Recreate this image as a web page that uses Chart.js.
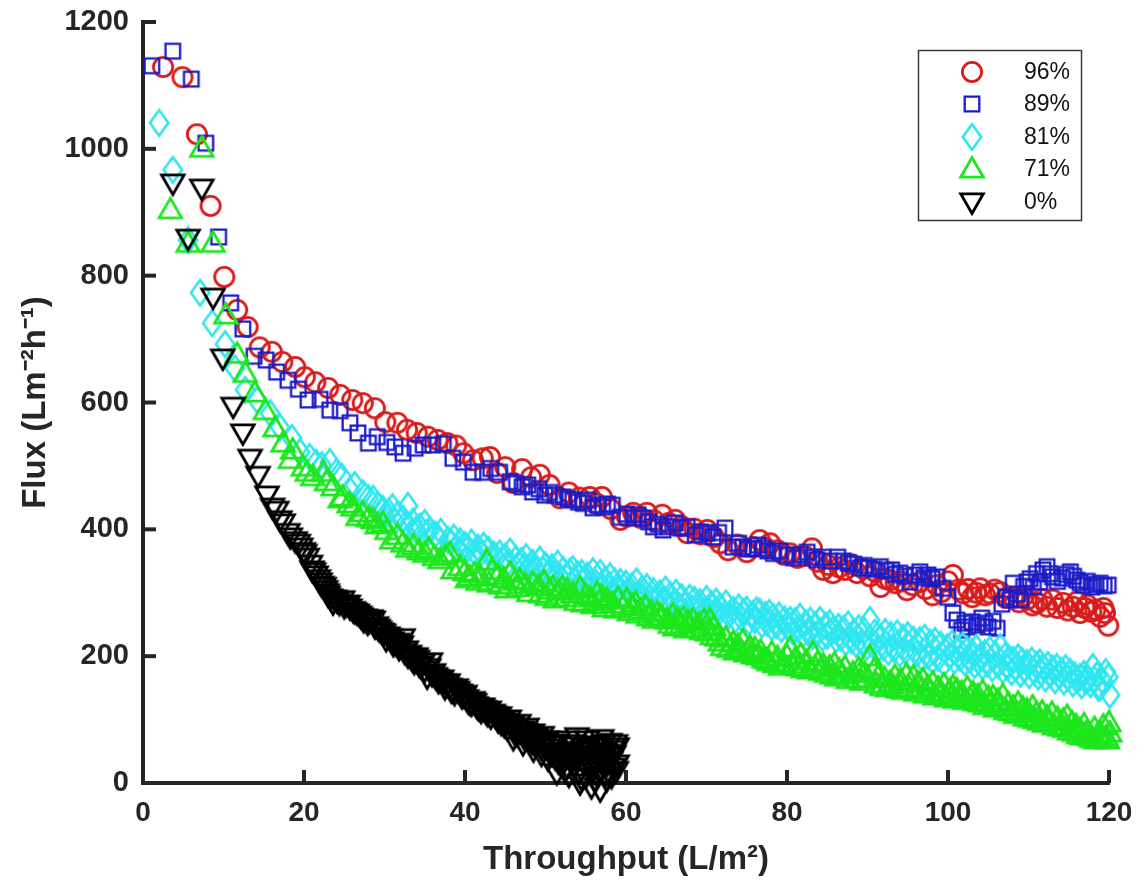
<!DOCTYPE html>
<html><head><meta charset="utf-8">
<script src="https://cdn.jsdelivr.net/npm/chart.js@4.4.0/dist/chart.umd.min.js"></script>
<style>html,body{margin:0;padding:0;background:#fff;}canvas{display:block;}</style>
</head><body>
<canvas id="c" width="1147" height="892"></canvas>
<script>
const seriesLabels = ['96%', '89%', '81%', '71%', '0%'];
const xTickValues = [0, 20, 40, 60, 80, 100, 120];
const xTickLabels = ['0', '20', '40', '60', '80', '100', '120'];
const yTickValues = [0, 200, 400, 600, 800, 1000, 1200];
const yTickLabels = ['0', '200', '400', '600', '800', '1000', '1200'];
const xTitle = 'Throughput (L/m\u00B2)';
const yTitle = 'Flux (Lm\u207B\u00B2h\u207B\u00B9)';

const x96 = [2.5,4.9,6.7,8.4,10.1,11.7,13.0,14.5,16.0,17.3,18.9,20.1,21.4,23.0,24.5,26.0,27.3,28.8,30.1,31.6,32.8,34.0,35.4,36.6,37.8,38.9,39.8,41.0,42.2,43.1,44.0,45.0,46.0,47.1,48.2,49.3,50.5,51.8,52.9,54.2,55.5,56.3,57.0,58.1,59.3,60.1,60.9,61.8,62.6,63.5,64.5,65.3,66.1,66.9,67.6,68.5,69.3,70.1,70.9,71.7,72.7,73.8,75.0,75.8,76.6,77.3,77.9,78.8,79.6,80.4,81.3,82.2,83.1,83.8,84.5,85.1,85.7,86.5,87.2,88.0,88.7,89.5,90.3,91.0,91.6,92.2,92.8,93.5,94.2,94.9,95.6,96.5,97.2,98.1,98.6,99.2,100.0,100.6,101.3,101.9,102.5,103.0,103.5,104.0,104.6,105.2,105.8,106.5,107.2,108.1,108.8,109.4,109.8,110.5,111.1,111.7,112.3,113.0,113.6,114.3,114.9,115.5,116.0,116.4,117.0,117.3,117.8,118.3,118.9,119.3,119.5,119.9];
const y96 = [1129,1113,1023,910,798,746,719,687,680,664,656,640,632,623,612,604,599,591,569,568,557,552,546,541,536,532,520,509,512,514,489,498,473,495,482,486,470,449,458,450,451,441,451,432,415,420,426,418,426,414,423,410,415,405,394,401,392,399,388,378,367,376,364,372,383,371,378,367,360,362,355,358,370,349,336,344,331,340,336,345,331,338,326,333,309,322,320,315,318,304,312,317,306,296,312,301,318,328,305,299,306,293,300,307,296,299,305,301,292,293,285,295,289,280,284,290,278,289,276,284,272,278,286,268,276,281,270,273,262,276,268,248];

const x89 = [1.1,3.7,6.0,7.8,9.4,10.9,12.4,13.8,15.3,16.6,18.0,19.3,20.5,22.0,23.2,24.5,25.7,26.7,28.0,29.1,30.3,31.3,32.3,33.8,34.8,36.0,37.3,38.5,39.8,41.0,42.2,43.2,44.3,45.6,46.4,47.1,47.8,48.4,49.2,49.9,50.5,51.2,52.2,52.8,53.4,54.1,54.7,55.3,55.9,56.5,57.1,57.7,58.3,59.3,60.1,60.9,61.5,62.1,62.8,63.4,64.0,64.6,65.3,66.1,66.8,67.6,68.6,69.3,70.1,70.8,71.5,72.3,73.3,74.0,74.5,75.1,75.8,76.4,77.0,77.6,78.3,79.1,80.0,80.8,81.6,82.5,83.1,83.7,84.5,85.3,86.3,87.0,87.6,88.3,89.1,89.6,90.1,90.8,91.6,92.3,93.0,93.5,94.0,94.6,95.3,95.9,96.5,97.0,97.5,98.0,98.6,99.4,100.0,100.6,101.1,101.7,102.1,102.5,103.0,103.6,104.2,104.6,105.0,105.6,106.1,106.7,107.2,107.7,108.1,108.6,109.0,109.4,109.8,110.2,110.6,111.0,111.4,111.8,112.3,112.7,113.0,113.6,114.2,114.7,115.2,115.6,116.0,116.4,116.8,117.3,117.9,118.4,118.9,119.4,119.9];
const y89 = [1131,1154,1110,1009,861,757,716,673,667,648,635,621,604,605,588,587,568,552,536,546,537,530,520,528,533,533,535,512,506,490,490,496,490,475,472,467,470,459,464,454,458,454,451,448,446,443,441,446,434,438,435,440,438,419,424,418,423,418,412,404,408,399,404,410,402,404,391,396,394,388,395,402,372,378,372,369,370,375,370,366,362,366,359,355,360,364,356,352,356,350,356,350,347,345,339,343,339,337,341,335,336,329,331,326,317,328,333,324,328,322,325,307,293,268,257,241,252,246,254,249,260,252,246,255,244,282,293,289,315,298,289,310,317,322,309,330,317,336,341,330,325,318,323,329,333,326,320,316,312,318,309,313,315,311,312];

const x81 = [2.0,3.7,5.6,7.1,8.6,10.2,11.4,12.7,14.2,15.8,17.0,18.5,19.5,20.7,21.5,22.2,23.2,24.0,24.7,25.7,26.3,27.3,28.0,28.6,29.2,29.8,30.5,31.0,31.6,32.3,32.9,33.5,34.4,35.0,35.6,36.3,37.0,37.9,38.6,39.4,40.0,40.8,41.6,42.3,42.9,43.6,44.3,45.0,45.6,46.3,47.0,47.6,48.4,49.3,50.0,50.8,51.5,52.2,53.0,53.4,54.0,54.5,55.2,55.9,56.8,57.4,58.0,58.6,59.3,60.0,60.7,61.3,62.0,62.6,63.4,64.2,64.9,65.5,66.2,66.9,67.9,68.5,69.2,70.0,70.6,71.2,71.7,72.4,73.3,74.0,74.6,75.0,75.7,76.2,76.6,77.3,77.8,78.3,79.0,79.7,80.4,81.0,81.6,82.3,82.9,83.5,84.1,84.8,85.3,85.7,86.4,87.0,87.6,88.3,88.9,89.6,90.3,90.9,91.6,92.2,92.9,93.7,94.4,95.0,95.7,96.5,97.1,97.8,98.4,99.1,99.9,100.5,101.2,101.8,102.4,103.0,103.5,104.0,104.6,105.2,105.9,106.5,107.1,107.6,108.1,108.7,109.2,109.8,110.4,111.0,111.4,111.8,112.4,113.0,113.5,114.1,114.6,115.2,115.7,116.4,116.9,117.4,118.0,118.5,118.9,119.3,119.6,119.9,120.1,
  30.0,31.3,32.6,33.9,35.3,36.7,38.2,39.0,40.4,41.2,42.0,43.3,44.7,45.3,46.7,47.3,48.0,48.8,49.7,50.4,51.1,51.9,52.6,53.7,54.8,55.5,56.3,57.1,57.7,58.3,59.0,59.7,60.3,61.0,61.7,62.3,63.0,63.8,64.6,65.2,65.9,66.6,67.3,68.2,68.8,69.6,70.3,70.9,71.5,72.1,72.8,73.6,74.3,75.3,76.0,76.9,77.5,78.1,78.7,79.3,80.1,80.7,81.3,82.0,82.6,83.2,83.8,84.4,85.0,86.1,86.7,87.3,88.0,88.6,89.3,89.9,90.6,91.3,92.0,92.6,93.3,94.0,94.7,95.4,96.1,96.8,97.5,98.1,98.8,99.5,100.2,100.8,101.5,102.1,102.7,103.3,103.8,104.3,104.9,105.5,106.2,106.8,107.4,107.9,108.4,109.0,109.5,110.1,110.7,111.2,111.6,112.1,112.7,113.3,113.8,114.4,114.9,115.5,116.0,116.6,117.1,117.7,118.2,118.7,119.1,119.8];
const y81 = [1041,967,856,773,725,692,654,620,604,583,561,544,522,514,505,501,506,490,483,462,470,457,449,448,438,432,428,435,423,417,437,412,404,410,398,392,396,383,387,381,375,379,371,374,368,360,362,357,365,353,350,356,347,352,343,340,346,336,333,337,329,331,327,334,331,320,326,318,317,314,310,318,306,309,303,299,305,296,300,293,292,289,285,290,282,286,278,283,273,277,270,273,266,272,270,265,268,262,264,258,257,255,262,252,256,249,257,248,252,241,246,243,250,238,244,240,257,237,230,238,233,236,229,233,226,225,229,221,224,218,214,220,212,217,210,206,213,199,205,210,203,214,200,196,194,198,192,189,193,186,190,183,186,180,183,177,181,175,170,167,172,165,183,170,151,160,175,167,139,
  421,412,409,399,395,386,380,371,370,364,363,355,353,347,345,340,341,335,336,329,330,324,325,318,320,314,315,309,310,303,305,298,302,295,297,291,293,287,289,283,285,279,281,275,277,270,272,267,268,262,265,258,261,254,257,250,253,246,249,243,245,239,242,235,238,232,236,229,232,227,229,222,225,219,222,215,218,211,214,207,211,204,208,200,204,197,200,193,197,189,200,193,197,190,194,186,192,184,188,181,186,178,183,175,181,172,179,170,176,168,174,165,171,162,169,160,166,157,163,154,161,156,163,150];

const x71 = [3.4,5.6,7.3,8.7,10.3,11.7,12.7,13.9,15.2,16.4,17.4,18.3,18.6,19.9,20.4,21.1,22.4,22.8,23.6,24.5,24.8,25.6,26.1,26.7,27.3,28.0,28.6,29.1,29.8,30.3,30.9,31.6,32.3,32.9,33.6,34.3,35.0,35.5,36.2,36.9,37.6,38.1,38.5,39.4,40.0,40.6,41.2,41.9,42.7,43.4,44.1,44.8,45.6,46.2,46.8,47.5,48.4,49.1,49.8,50.5,50.9,51.6,52.1,52.7,53.4,54.3,55.0,55.6,56.4,57.0,57.6,58.3,59.0,60.1,60.7,61.2,61.7,62.4,63.1,63.9,64.5,65.1,65.8,66.4,67.1,67.7,68.3,69.0,69.7,70.4,70.9,71.3,71.7,72.4,73.3,73.9,74.5,75.4,76.0,76.7,77.5,78.1,78.8,79.5,80.0,80.4,81.0,81.7,82.4,83.2,83.8,84.5,85.3,85.9,86.5,87.2,88.2,88.9,89.6,90.3,90.8,91.4,92.1,92.8,93.4,94.1,94.8,95.7,96.3,96.9,97.5,98.1,98.8,99.5,100.2,100.6,101.1,101.7,102.4,103.1,103.7,104.3,105.0,105.6,106.2,106.8,107.5,108.1,108.7,109.3,109.8,110.5,111.0,111.7,112.3,112.9,113.6,114.3,114.8,115.4,115.9,116.4,116.9,117.3,117.6,118.2,118.6,118.9,119.3,119.6,120.0,120.1,
  40.3,41.6,43.0,44.4,45.2,46.5,47.9,49.4,50.2,51.2,52.4,53.8,54.7,55.9,56.7,57.3,58.7,59.6,60.4,61.5,62.8,63.5,64.2,65.5,66.1,66.9,67.4,68.7,69.4,70.1,70.7,72.0,72.8,73.6,74.2,74.9,75.8,76.4,77.1,77.8,78.5,79.2,80.7,81.4,82.0,82.8,83.5,84.2,84.9,85.6,86.2,86.9,87.6,88.5,89.3,90.0,91.1,91.8,92.5,93.1,93.8,94.5,95.2,96.0,96.6,97.2,97.8,98.4,99.2,99.8,100.4,100.9,101.4,102.1,102.7,103.4,104.0,104.6,105.3,105.9,106.5,107.2,107.8,108.4,109.0,109.6,110.2,110.8,111.4,112.0,112.6,113.2,113.9,114.5,115.1,115.7,116.2,116.7,117.1,117.9,118.4,119.1,119.8];
const y71 = [904,851,1001,851,738,676,646,615,587,560,536,510,525,498,490,483,490,475,467,448,451,440,435,420,426,418,415,407,410,398,383,390,378,370,374,366,362,369,357,352,358,362,336,341,333,325,330,325,350,335,327,322,331,318,320,313,315,310,317,304,309,302,308,304,298,307,296,292,299,294,289,282,291,289,280,284,273,278,270,268,262,257,265,258,260,254,257,250,256,257,246,230,222,228,221,217,224,214,212,208,194,205,198,189,200,213,195,202,192,205,190,186,183,188,178,182,173,180,174,199,178,170,165,158,168,162,170,167,158,163,152,158,150,155,146,152,147,143,150,142,138,144,135,136,130,138,125,120,126,118,115,120,110,112,104,110,102,99,105,95,90,84,92,80,73,86,76,79,90,72,95,79,
  322,318,315,312,306,308,300,298,294,290,292,286,284,281,286,276,274,278,270,266,262,258,262,250,246,249,243,244,240,238,232,215,212,208,210,205,202,200,196,191,188,184,187,183,180,178,182,176,173,170,167,170,163,164,160,165,156,152,150,154,148,146,150,143,146,140,143,137,140,134,137,132,135,130,133,128,126,122,124,118,120,114,112,108,110,104,102,100,97,94,96,90,88,86,82,80,76,74,78,70,68,72,68];

const x0 = [3.7,5.6,7.3,8.7,9.9,11.2,12.4,13.3,14.3,15.4,16.1,16.6,17.0,17.4,18.0,18.3,18.9,19.3,19.9,20.4,20.8,21.0,21.5,22.0,22.5,22.9,23.3,23.6,24.1,24.8,25.2,25.7,26.1,26.6,27.1,27.6,28.1,28.6,29.0,29.4,29.9,30.2,30.7,31.1,31.6,31.9,32.3,32.7,33.1,33.5,33.9,34.3,34.8,35.3,35.7,36.1,36.5,36.9,37.3,37.7,38.1,38.5,38.9,39.4,39.8,40.2,40.6,41.0,41.4,41.8,42.2,42.6,43.0,43.5,43.9,44.3,44.7,45.1,45.5,45.9,46.0,46.3,46.7,47.1,47.2,47.5,47.7,48.1,48.4,48.5,48.8,49.2,49.5,49.6,50.0,50.2,50.3,50.6,51.0,51.4,51.4,51.8,52.2,52.5,52.7,52.7,53.1,53.3,53.5,53.9,53.9,54.2,54.3,54.6,54.8,55.0,55.2,55.2,55.5,55.7,55.9,56.1,56.4,56.4,56.6,56.8,57.0,57.1,57.3,57.6,57.6,57.8,58.0,58.1,58.4,58.6,58.9,58.9,
  19.6,20.1,21.2,21.8,22.2,22.7,23.0,23.8,24.4,25.0,25.5,26.3,26.9,27.4,27.9,28.3,28.8,29.2,29.7,30.4,30.9,31.4,31.8,32.1,32.5,32.9,33.3,33.7,34.1,34.5,35.0,35.5,35.9,36.3,36.7,37.1,37.5,37.9,38.3,38.7,39.1,39.6,40.0,40.4,40.8,41.2,41.6,42.0,42.4,42.8,43.2,43.7,44.1,44.5,44.9,45.3,45.7,46.1,46.5,46.9,47.3,47.9,48.3,48.7,49.0,49.4,49.8,50.4,50.8,51.2,51.6,52.0,52.4,52.9,53.2,53.6,54.0,54.4,54.9,55.3,55.6,56.0,56.2,56.7,56.9,57.2,57.4,57.7,57.9,58.2,58.5,58.7,58.8];
const y0 = [946,859,938,766,670,594,552,512,485,454,435,430,415,410,395,388,382,378,365,356,345,336,328,317,310,300,292,284,287,289,281,276,272,268,262,260,255,257,248,241,236,226,229,218,222,215,229,210,203,194,199,186,190,167,191,174,165,162,158,155,151,146,150,142,137,133,126,130,122,117,120,112,115,110,104,106,99,96,101,92,70,88,94,84,62,80,88,77,79,52,73,70,45,75,66,68,38,60,55,63,16,48,42,50,68,25,35,58,28,73,40,18,0,52,30,10,68,36,44,-6,22,60,57,12,38,-11,70,28,50,47,5,18,64,35,25,53,57,30,
  372,362,333,322,312,305,296,290,283,278,282,270,265,256,252,259,246,244,238,232,224,220,212,218,206,200,198,190,195,184,178,182,171,168,160,164,150,158,145,141,146,136,140,128,124,127,118,113,116,108,104,107,98,94,90,86,93,80,76,82,72,68,64,60,66,56,58,50,45,40,33,28,20,12,45,62,50,8,45,55,25,40,5,18,48,62,12,30,42,10,45,62,20];

const colors = ['#d81c1c', '#1c1cc8', '#2fe6f0', '#1ee61e', '#000000'];
const axisColor = '#262626';
const fontFamily = "'Liberation Sans', Arial, sans-serif";

function makeMarker(shape, color) {
  const c = document.createElement('canvas');
  c.width = 34; c.height = 34;
  const g = c.getContext('2d');
  g.strokeStyle = color; g.lineJoin = 'miter';
  const m = 17;
  g.beginPath();
  if (shape === 'circle') { g.lineWidth = 2.8; g.arc(m, m, 9.6, 0, Math.PI * 2); }
  else if (shape === 'square') { g.lineWidth = 2.3; g.rect(m - 7.3, m - 7.3, 14.6, 14.6); }
  else if (shape === 'diamond') { g.lineWidth = 2.6; g.moveTo(m, m - 12.8); g.lineTo(m + 9.2, m); g.lineTo(m, m + 12.8); g.lineTo(m - 9.2, m); g.closePath(); }
  else if (shape === 'up') { g.lineWidth = 2.8; g.moveTo(m, m - 11.5); g.lineTo(m + 11.3, m + 8.2); g.lineTo(m - 11.3, m + 8.2); g.closePath(); }
  else if (shape === 'down') { g.lineWidth = 2.8; g.moveTo(m, m + 11.5); g.lineTo(m + 11.3, m - 8.2); g.lineTo(m - 11.3, m - 8.2); g.closePath(); }
  g.stroke();
  return c;
}
const shapes = ['circle', 'square', 'diamond', 'up', 'down'];
const markers = shapes.map((s, i) => makeMarker(s, colors[i]));

const xs = [x96, x89, x81, x71, x0];
const ys = [y96, y89, y81, y71, y0];

const datasets = seriesLabels.map((lab, i) => ({
  label: lab,
  data: xs[i].map((x, k) => ({ x: x, y: ys[i][k] })),
  pointStyle: markers[i],
  pointRadius: 11,
  pointHoverRadius: 11,
  borderColor: colors[i],
  backgroundColor: 'transparent',
  showLine: false,
  clip: false,
  order: 5 - i
}));

const decor = {
  id: 'decor',
  beforeDatasetsDraw(chart) {
    const ctx = chart.ctx, a = chart.chartArea;
    const sx = chart.scales.x, sy = chart.scales.y;
    ctx.save();
    ctx.strokeStyle = axisColor; ctx.lineWidth = 4; ctx.lineCap = 'butt';
    sy.ticks.forEach(t => { const p = sy.getPixelForValue(t.value); ctx.beginPath(); ctx.moveTo(a.left, p); ctx.lineTo(a.left + 13, p); ctx.stroke(); });
    sx.ticks.forEach(t => { const p = sx.getPixelForValue(t.value); ctx.beginPath(); ctx.moveTo(p, a.bottom); ctx.lineTo(p, a.bottom - 13); ctx.stroke(); });
    ctx.restore();
  },
  afterDraw(chart) {
    const ctx = chart.ctx;
    ctx.save();
    const bx = 918, by = 50, bw = 163, bh = 170;
    ctx.fillStyle = '#fff';
    ctx.fillRect(bx, by, bw, bh);
    ctx.strokeStyle = '#3a3a3a'; ctx.lineWidth = 1.5;
    ctx.strokeRect(bx + 0.5, by + 0.5, bw, bh);
    const rows = [72, 104, 137, 169, 202];
    ctx.font = '23px ' + fontFamily;
    ctx.fillStyle = '#111';
    ctx.textBaseline = 'middle'; ctx.textAlign = 'left';
    chart.data.datasets.forEach((ds, i) => {
      const m = ds.pointStyle;
      ctx.drawImage(m, 972 - m.width / 2, rows[i] - m.height / 2);
      ctx.fillText(ds.label, 1024, rows[i] + 1);
    });
    ctx.restore();
  }
};

new Chart(document.getElementById('c'), {
  type: 'scatter',
  data: { datasets: datasets },
  options: {
    responsive: false,
    animation: false,
    devicePixelRatio: 1,
    layout: { padding: { top: 22, right: 38, left: 0, bottom: 0 } },
    plugins: { legend: { display: false }, tooltip: { enabled: false } },
    scales: {
      x: {
        type: 'linear', min: 0, max: 120,
        afterBuildTicks: s => { s.ticks = xTickValues.map(v => ({ value: v })); },
        afterFit: s => { s.height = 109; s.paddingLeft = 0; s.paddingRight = 0; },
        grid: { display: false, drawTicks: false },
        border: { display: true, width: 4, color: axisColor },
        ticks: { padding: 13, color: axisColor, callback: (v, i) => xTickLabels[i], font: { family: fontFamily, size: 28, weight: 'bold' } },
        title: { display: true, text: xTitle, color: axisColor, padding: { top: 0, bottom: 12 }, font: { family: fontFamily, size: 33, weight: 'bold' } }
      },
      y: {
        type: 'linear', min: 0, max: 1200,
        afterBuildTicks: s => { s.ticks = yTickValues.map(v => ({ value: v })); },
        afterFit: s => { s.width = 143; s.paddingTop = 0; s.paddingBottom = 0; },
        grid: { display: false, drawTicks: false },
        border: { display: true, width: 4, color: axisColor },
        ticks: { padding: 14, color: axisColor, callback: (v, i) => yTickLabels[i], font: { family: fontFamily, size: 29, weight: 'bold' } },
        title: { display: true, text: yTitle, color: axisColor, padding: { top: 16, bottom: 0 }, font: { family: fontFamily, size: 33, weight: 'bold' } }
      }
    }
  },
  plugins: [decor]
});
</script>
</body></html>
